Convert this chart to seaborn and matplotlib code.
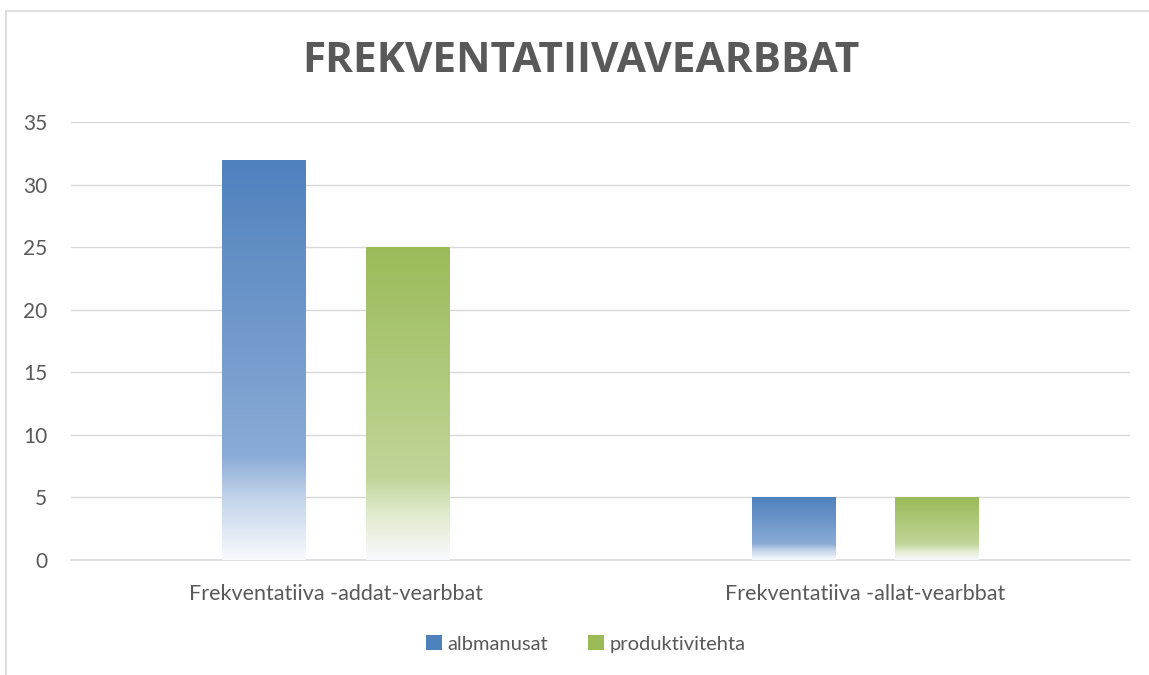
import numpy as np
import pandas as pd
import matplotlib
matplotlib.use('Agg')
import matplotlib.pyplot as plt
import seaborn as sns
from matplotlib.colors import LinearSegmentedColormap, to_rgb
from matplotlib.patches import Patch
from matplotlib.lines import Line2D

categories = ['Frekventatiiva -addat-vearbbat', 'Frekventatiiva -allat-vearbbat']
series = ['albmanusat', 'produktivitehta']
albmanusat = [32, 5]
produktivitehta = [25, 5]

colors = {'albmanusat': '#4F81BD', 'produktivitehta': '#9BBB59'}
light = {'albmanusat': '#8AABD6', 'produktivitehta': '#C0D699'}

df = pd.DataFrame({
    'category': categories * 2,
    'series': [series[0]] * 2 + [series[1]] * 2,
    'value': albmanusat + produktivitehta,
})

sns.set_style('white')
plt.rcParams['font.family'] = ['Lato', 'DejaVu Sans']

fig = plt.figure(figsize=(11.49, 6.75), dpi=100)
ax = fig.add_axes([71 / 1149, 1 - 560 / 675, (1130 - 71) / 1149, (560 - 122) / 675])

sns.barplot(data=df, x='category', y='value', hue='series', order=categories,
            hue_order=series, palette=colors, width=0.543, gap=0.42,
            ax=ax, legend=False, zorder=3)

ax.set_yticks(range(0, 36, 5))
ax.yaxis.grid(True, color='#D9D9D9', lw=1, zorder=0)
ax.set_axisbelow(True)
for s in ['top', 'right', 'left']:
    ax.spines[s].set_visible(False)
ax.spines['bottom'].set_color('#D9D9D9')
ax.spines['bottom'].set_linewidth(1.2)
ax.tick_params(axis='both', length=0, labelcolor='#595959')
ax.tick_params(axis='y', pad=17, labelsize=15)
ax.tick_params(axis='x', pad=17, labelsize=15.5)
ax.set_xlabel('')
ax.set_ylabel('')

# gradient fill for each bar, dark at the top fading to white at the bottom
for i, patch in enumerate(ax.patches):
    name = series[i // len(categories)]
    c0 = to_rgb(colors[name])
    c1 = to_rgb(light[name])
    cmap = LinearSegmentedColormap.from_list(
        name, [(0.0, c0), (0.74, c1), (0.85, tuple(0.5 * np.array(c1) + 0.5)), (1.0, (0.97, 0.98, 0.99))])
    x0, y0 = patch.get_x(), patch.get_y()
    w, h = patch.get_width(), patch.get_height()
    grad = np.linspace(0, 1, 256).reshape(-1, 1)
    im = ax.imshow(grad, cmap=cmap, aspect='auto', extent=[x0, x0 + w, y0, y0 + h],
                   origin='upper', zorder=4)
    im.set_clip_path(patch)
    patch.set_edgecolor('none')

ax.set_ylim(0, 35)
ax.set_xlim(-0.5, 1.5)

fig.text(581 / 1149, 1 - 62 / 675, 'FREKVENTATIIVAVEARBBAT', ha='center', va='center',
         fontsize=30.5, fontweight='bold', color='#595959', family=['Open Sans', 'DejaVu Sans'])

handles = [Patch(facecolor=colors[s], edgecolor='none') for s in series]
fig.legend(handles, series, loc='center', bbox_to_anchor=(586 / 1149, 1 - 644 / 675), ncol=2,
           frameon=False, fontsize=14.5, labelcolor='#595959', handlelength=0.75,
           handleheight=0.75, handletextpad=0.3, columnspacing=2.0)

# chart border
fig.add_artist(Line2D([6 / 1149, 6 / 1149], [0, 1 - 11 / 675], transform=fig.transFigure,
                      color='#D9D9D9', lw=1.2))
fig.add_artist(Line2D([6 / 1149, 1], [1 - 11 / 675, 1 - 11 / 675], transform=fig.transFigure,
                      color='#D9D9D9', lw=1.2))

fig.savefig('out.png', dpi=100, facecolor='white')
